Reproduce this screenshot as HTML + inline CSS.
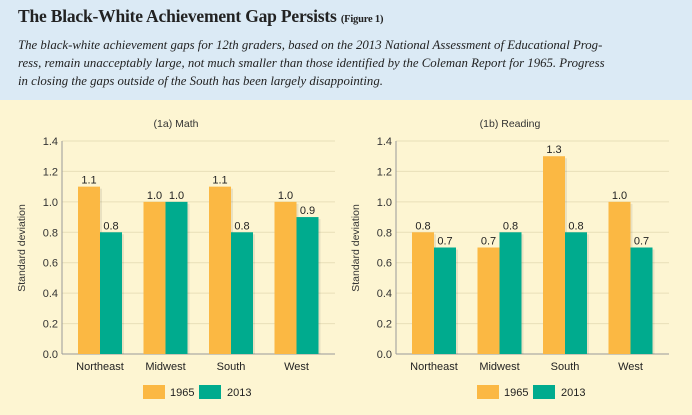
<!DOCTYPE html>
<html><head><meta charset="utf-8">
<style>
body{margin:0;width:692px;height:415px;overflow:hidden;background:#fdf5d2;font-family:"Liberation Sans",sans-serif;}
#hdr{position:absolute;left:0;top:0;width:692px;height:100px;background:#dbeaf5;}
#title{position:absolute;left:18px;top:6px;font-family:"Liberation Serif",serif;font-weight:bold;font-size:17.5px;color:#222;white-space:nowrap;letter-spacing:-0.2px;}
#title small{font-size:10.5px;}
#desc{position:absolute;left:18px;top:36px;width:670px;font-family:"Liberation Serif",serif;font-style:italic;font-size:12.8px;line-height:18px;color:#222;white-space:nowrap;}
svg{position:absolute;left:0;top:0;}
</style></head><body>
<div id="hdr">
<div id="title">The Black-White Achievement Gap Persists <small>(Figure 1)</small></div>
<div id="desc">The black-white achievement gaps for 12th graders, based on the 2013 National Assessment of Educational Prog-<br>ress, remain unacceptably large, not much smaller than those identified by the Coleman Report for 1965. Progress<br>in closing the gaps outside of the South has been largely disappointing.</div>
</div>
<svg id="chart" width="692" height="415"></svg>
<script>
const categories=["Northeast","Midwest","South","West"];
const mathY1965=[1.1,1.0,1.1,1.0];
const mathY2013=[0.8,1.0,0.8,0.9];
const readY1965=[0.8,0.7,1.3,1.0];
const readY2013=[0.7,0.8,0.8,0.7];
const yTicks=[0,0.2,0.4,0.6,0.8,1.0,1.2,1.4];
const seriesNames=["1965","2013"];
const panelTitles=["(1a) Math","(1b) Reading"];

const NS="http://www.w3.org/2000/svg";
const svg=document.getElementById('chart');
function mk(tag,attrs,txt){const e=document.createElementNS(NS,tag);for(const k in attrs)e.setAttribute(k,attrs[k]);if(txt!==undefined)e.textContent=txt;svg.appendChild(e);return e;}
const C1="#fbb843",C2="#00ab8e";
const y0=354,yTop=141,yMax=1.4;
function yS(v){return y0-(v/yMax)*(y0-yTop);}
function drawPanel(ox,title,a,b,key){
  const left=62+ox,right=335+ox;
  const t=mk('text',{x:176+ox,y:127,'text-anchor':'middle','font-size':10.5,fill:'#333'},title);
  
  
  yTicks.forEach(v=>{
    const g=mk('line',{x1:left,x2:right,y1:yS(v),y2:yS(v),stroke:v===0?'#999':'#e8dfb8','stroke-width':1});
    
    
    const l=mk('text',{x:left-4,y:yS(v)+4,'text-anchor':'end','font-size':11,fill:'#333'},v.toFixed(1));
    
    
  });
  const ax=mk('line',{x1:left,x2:left,y1:yTop,y2:y0,stroke:'#999','stroke-width':1});
  
  
  const yt=mk('text',{x:0,y:0,transform:`translate(${25+ox},248) rotate(-90)`,'text-anchor':'middle','font-size':10.5,fill:'#333'},'Standard deviation');
  
  
  const step=65.5,bw=22;
  categories.forEach((c,i)=>{
    const cx=100+ox+i*step;
    [[a[i],cx-bw,C1,'1965'],[b[i],cx,C2,'2013']].forEach(([v,x,col,s])=>{
      const sh=mk('rect',{x:x+2,y:yS(v)+2,width:bw,height:y0-yS(v)-2,fill:'#000',opacity:0.08});
      
      
      const r=mk('rect',{x:x,y:yS(v),width:bw,height:y0-yS(v),fill:col});
      
      
      const lb=mk('text',{x:x+bw/2,y:yS(v)-3,'text-anchor':'middle','font-size':11,fill:'#222'},v.toFixed(1));
      
      
    });
    const cl=mk('text',{x:cx,y:370,'text-anchor':'middle','font-size':11,fill:'#222'},c);
    
    
  });
  [[143,C1,seriesNames[0],170],[199,C2,seriesNames[1],227]].forEach(([x,col,n,tx])=>{
    const r=mk('rect',{x:x+ox,y:385,width:22,height:14,fill:col});
    
    
    const t2=mk('text',{x:tx+ox,y:396,'font-size':11,fill:'#222'},n);
    
    
  });
}
drawPanel(0,panelTitles[0],mathY1965,mathY2013,'math');
drawPanel(334,panelTitles[1],readY1965,readY2013,'reading');
</script>
</body></html>
